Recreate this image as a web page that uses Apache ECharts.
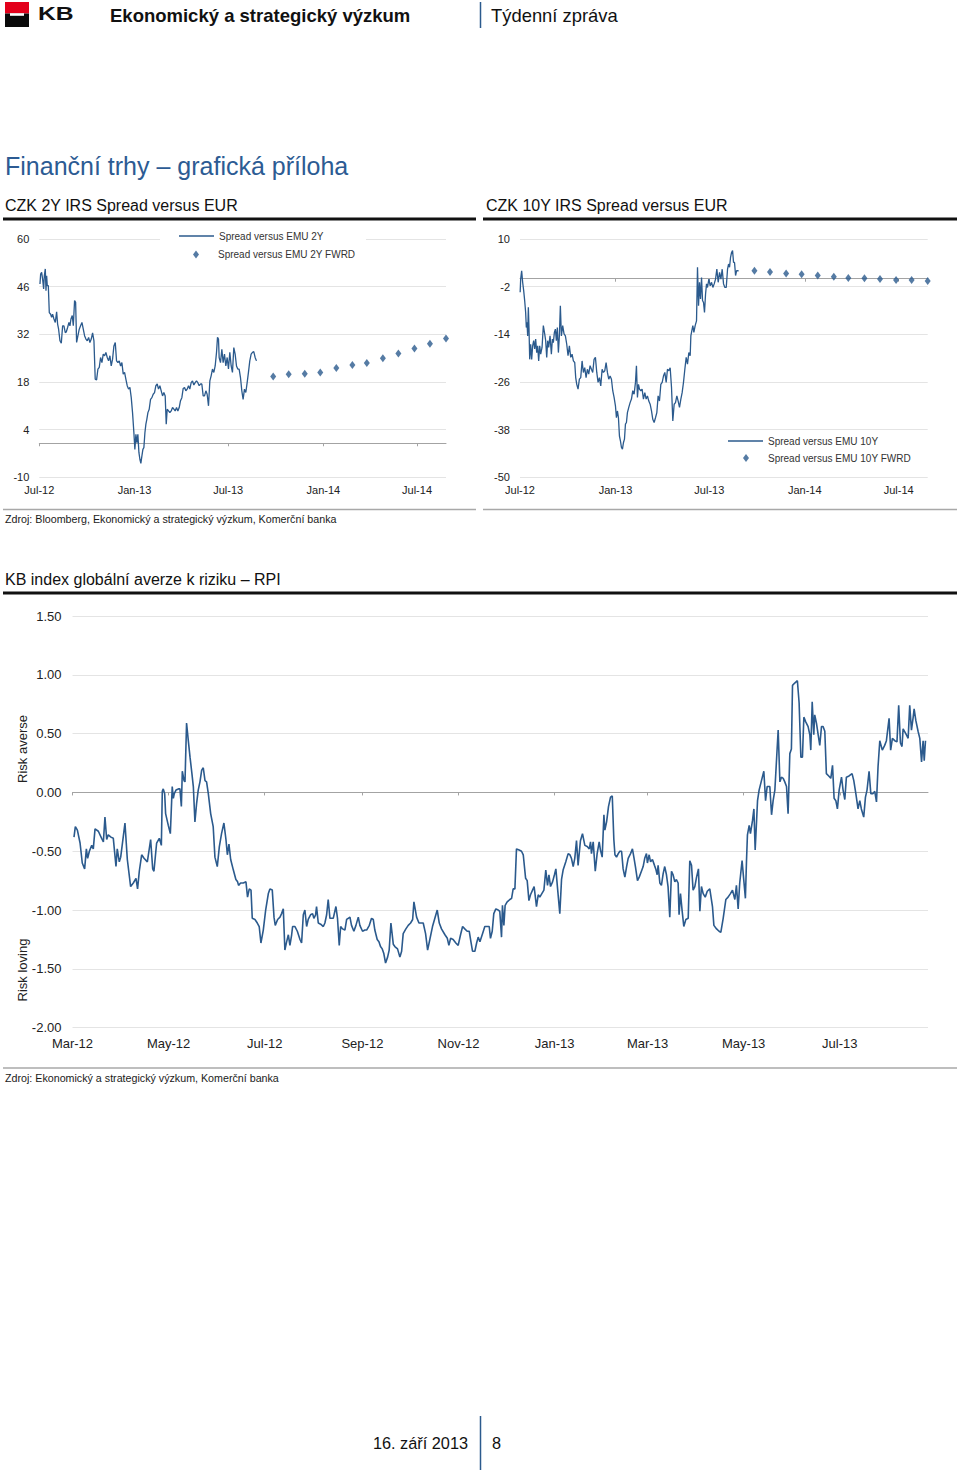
<!DOCTYPE html>
<html><head><meta charset="utf-8">
<script src="https://cdn.jsdelivr.net/npm/echarts@6/dist/echarts.min.js"></script>
<style>html,body{margin:0;padding:0;background:#fff}#c{width:960px;height:1470px}</style>
</head><body><div id="c"></div>
<script>
// ---------- data ----------
// CZK 2Y spread (days since 2012-07-01, bp)
const s2Base = '2012-07-01';
const s2Day = [
1.3,2.6,4.5,6.4,8.4,9.7,11.6,12.9,14.2,15.4,
17.4,19.3,21.9,23.8,25.7,28.3,30.9,33.5,35.4,37.3,
39.9,42.5,45.1,47.6,50.2,52.1,54.7,57.3,59.2,61.2,
63.7,65.7,68.2,70.2,72.1,74.7,77.2,79.8,82.4,85.0,
87.5,90.1,92.7,95.3,97.8,100.4,103.0,105.6,108.1,110.7,
113.3,115.9,118.4,121.0,123.6,126.2,128.7,131.3,133.9,136.5,
139.0,141.6,144.2,146.8,149.3,151.9,154.5,157.1,159.6,162.2,
164.8,167.4,169.9,172.5,175.1,177.7,180.2,182.8,184.7,186.7,
188.6,190.5,192.5,194.4,196.3,198.3,200.2,202.1,204.1,206.0,
207.9,209.9,212.4,215.0,217.6,220.1,222.7,225.3,227.9,230.4,
233.0,235.6,238.2,240.7,243.3,245.3,247.2,249.8,252.3,254.9,
257.5,260.1,262.6,265.2,267.8,270.4,272.9,275.5,278.1,280.7,
283.2,285.8,288.4,290.9,293.5,296.1,298.7,301.2,303.8,306.4,
309.0,311.5,314.1,316.7,319.3,321.9,324.4,327.0,329.6,332.1,
334.7,337.3,339.9,342.5,344.4,346.3,347.6,350.2,352.8,355.3,
357.9,360.5,363.1,365.6,368.2,370.8,373.3,375.9,378.5,381.1,
383.6,386.2,388.8,391.4,393.9,396.5,399.1,401.7,404.2,406.8,
409.4,412.0,414.5,417.1,419.7];
const s2Val = [
46.8,49.7,50.2,48.2,45.3,49.2,51.2,44.8,49.2,46.3,
46.3,38.4,37.9,37.0,37.9,36.5,35.5,38.6,35.0,33.5,
30.1,29.4,34.5,34.5,32.5,32.7,34.0,35.5,34.5,36.5,
37.5,34.5,41.9,41.4,29.6,31.6,33.5,34.5,35.5,33.5,
31.6,30.6,30.1,31.1,29.6,30.6,32.4,30.1,18.8,18.6,
21.8,22.3,25.2,23.7,26.2,25.7,26.7,25.2,24.2,25.7,
22.7,24.7,28.6,29.6,24.2,23.7,24.2,22.7,23.7,20.3,
20.8,18.8,16.9,15.9,16.4,13.4,9.0,3.1,-1.8,2.6,
0.2,2.6,-2.7,-4.7,-5.9,-3.7,-1.8,-1.3,3.1,5.6,
7.1,9.0,10.0,12.9,13.4,14.4,14.9,16.9,17.4,15.9,
16.9,15.4,13.9,14.9,13.9,5.6,10.0,9.5,9.0,9.5,
10.5,10.0,9.5,10.5,9.5,10.5,12.5,13.4,16.1,16.4,
15.4,15.9,16.9,15.9,17.8,18.3,17.1,17.8,18.3,17.8,
16.9,17.4,17.4,13.9,13.9,15.4,14.4,11.0,18.3,19.8,
21.8,20.8,22.7,26.7,31.1,30.6,25.2,23.7,27.6,23.7,
26.2,22.7,25.2,21.8,26.7,22.7,20.8,28.1,26.2,22.7,
21.8,21.8,19.3,15.4,12.9,15.9,14.9,17.8,20.8,24.2,
26.2,26.7,26.9,25.2,24.2];
const fwrdDates = ['2013-09-26','2013-10-26','2013-11-26','2013-12-26','2014-01-26','2014-02-26',
  '2014-03-26','2014-04-26','2014-05-26','2014-06-26','2014-07-26','2014-08-26'];
const s2Fwrd = [19.6,20.3,20.4,20.8,22.1,23.0,23.6,25.0,26.4,27.8,29.2,30.8];

// CZK 10Y spread (days since 2012-07-01, bp)
const s10Base = '2012-07-01';
const s10Day = [
0.3,1.3,3.2,5.1,7.1,9.0,10.9,12.2,13.5,14.8,
16.1,17.4,18.7,20.6,22.5,24.4,26.4,28.3,30.2,32.2,
34.1,36.0,38.0,39.9,42.5,45.0,47.6,49.5,51.5,53.4,
55.3,57.9,60.5,62.4,64.3,66.3,68.2,70.1,72.0,74.0,
75.9,77.8,79.8,82.3,84.9,87.5,90.1,92.6,95.2,97.8,
100.4,102.9,105.5,107.4,109.4,111.9,114.5,117.1,119.7,122.2,
124.8,127.4,129.9,132.5,135.1,137.7,140.2,142.8,145.4,148.0,
150.5,153.1,155.7,158.3,160.8,163.4,166.0,168.5,171.1,173.7,
176.3,178.8,181.4,184.0,185.9,187.8,189.8,191.7,193.6,195.6,
197.5,199.4,201.4,203.3,205.2,207.1,209.7,212.3,214.9,217.4,
220.0,222.6,224.5,226.4,228.4,230.3,232.9,235.4,238.0,240.6,
243.2,245.7,248.3,250.9,253.5,256.0,258.6,261.2,263.8,266.3,
268.9,271.5,274.1,276.6,279.2,281.8,284.3,286.9,289.5,292.1,
294.6,297.2,299.8,302.4,304.9,307.5,310.1,312.6,315.2,317.8,
320.4,322.9,325.5,328.1,329.4,331.3,333.2,335.2,337.7,340.3,
342.2,344.2,346.1,348.0,350.0,351.9,353.8,355.7,357.7,359.6,
361.5,364.1,366.7,369.3,371.8,374.4,377.0,379.5,382.1,384.7,
387.3,389.8,392.4,395.0,397.6,400.1,402.1,404.0,405.9,407.9,
409.8,411.7,413.6,415.6,417.5,419.4,421.4];
const s10Val = [
-3.4,-0.1,2.0,-0.9,-3.0,-5.5,-8.5,-12.3,-11.0,-14.4,
-7.2,-12.7,-20.3,-16.5,-20.3,-16.9,-15.6,-17.7,-15.2,-18.6,
-16.9,-20.7,-16.9,-19.0,-17.3,-11.8,-13.9,-15.6,-19.8,-15.6,
-17.3,-14.4,-19.0,-15.2,-16.1,-13.5,-12.7,-15.6,-12.3,-18.6,
-14.4,-6.8,-14.4,-11.8,-13.9,-14.4,-16.5,-19.4,-16.9,-19.8,
-19.0,-20.7,-21.1,-24.9,-26.6,-27.8,-25.3,-24.9,-20.7,-23.6,
-22.4,-24.9,-22.8,-24.0,-21.9,-22.8,-23.6,-20.3,-19.8,-23.6,
-26.1,-24.9,-27.0,-22.8,-23.6,-23.2,-21.1,-23.6,-25.3,-24.5,
-25.3,-28.2,-29.9,-32.0,-35.0,-33.3,-35.0,-39.6,-40.8,-42.5,
-42.9,-41.3,-40.4,-36.6,-36.2,-33.7,-32.4,-31.2,-30.3,-28.2,
-29.1,-26.1,-21.9,-29.9,-26.6,-27.8,-28.2,-27.8,-30.3,-28.7,
-30.3,-29.5,-30.8,-31.6,-33.3,-35.4,-36.2,-35.0,-33.7,-29.5,
-30.8,-26.6,-26.1,-24.5,-23.6,-26.1,-22.8,-23.2,-22.4,-27.4,
-35.8,-31.6,-31.2,-29.5,-30.8,-32.4,-30.3,-28.7,-26.1,-22.8,
-19.8,-21.5,-18.6,-19.4,-14.4,-13.1,-11.8,-13.5,-11.8,-10.6,
2.9,-6.8,-0.9,-5.1,0.3,-5.5,-6.0,-8.5,-3.9,-1.3,
-2.2,-0.1,-1.8,-0.9,-2.2,-1.3,-0.1,2.4,-0.9,1.6,
-0.1,2.4,-1.3,-2.2,-2.2,2.4,3.7,2.9,5.4,6.6,
7.1,4.1,4.1,0.8,2.0,2.0,2.0];
const s10Fwrd = [2.0,1.7,1.3,1.1,0.8,0.5,0.2,0.1,-0.1,-0.3,-0.3,-0.6];

// KB RPI (days since 2012-03-01)
const rpiBase = '2012-03-01';
const rpiDay = [
0.95,1.8,3.1,4.8,6.2,7.7,8.8,9.6,10.7,12.2,
13.2,14.3,16.4,18.5,19.6,20.6,21.7,22.7,24.4,25.9,
27.6,28.4,29.7,30.6,33.3,34.8,36.9,38.6,40.3,41.3,
42.4,43.9,45.4,47.5,49.6,50.9,51.7,53.4,55.1,56.4,
57.0,57.6,58.5,59.1,60.8,62.1,63.3,64.0,64.6,65.7,
67.2,68.2,69.1,69.7,70.8,71.4,72.4,73.5,74.6,75.8,
76.7,77.7,78.8,79.8,80.9,82.0,83.0,84.1,85.1,86.2,
87.7,89.3,90.4,91.9,93.2,94.6,96.1,97.4,98.3,99.3,
100.4,102.1,103.7,104.8,105.4,106.7,108.4,110.1,111.1,112.2,
113.3,114.1,115.8,117.3,118.5,119.6,121.1,122.6,124.3,125.3,
126.8,127.9,128.7,130.2,131.7,132.7,133.8,134.8,135.9,137.0,
138.0,139.1,139.7,141.2,142.7,144.4,145.4,146.5,147.5,148.6,
149.6,151.1,152.4,153.2,154.3,154.9,156.0,157.5,159.2,160.2,
161.3,162.3,163.4,165.5,167.2,168.2,169.3,170.2,171.4,172.9,
174.0,175.0,176.1,177.1,178.6,179.9,181.4,182.4,184.1,185.6,
186.7,188.4,189.8,190.9,191.9,193.4,194.5,195.5,196.6,197.6,
198.7,200.0,201.0,202.1,203.6,204.6,206.3,207.8,208.9,209.9,
211.6,213.1,214.6,215.9,216.7,218.4,219.9,220.9,222.6,224.1,
225.4,226.8,228.5,230.0,231.5,232.8,234.2,236.4,237.9,238.9,
240.0,241.6,243.3,244.8,246.3,247.6,249.0,250.5,251.8,252.9,
253.9,255.4,256.5,257.5,258.6,260.3,261.7,263.2,264.5,265.3,
266.4,267.4,268.7,270.2,271.2,272.3,272.9,273.8,274.6,275.9,
277.6,278.7,279.7,280.8,281.8,283.5,285.0,286.1,287.6,288.6,
289.7,290.7,292.0,293.0,294.5,295.6,296.6,297.9,299.2,300.4,
301.5,302.4,303.4,304.7,305.9,306.8,307.9,309.3,310.4,311.4,
313.1,314.6,315.7,316.7,317.8,318.8,319.9,320.9,322.4,323.7,
325.2,326.7,328.0,328.8,329.4,330.5,331.8,333.0,334.3,335.1,
336.2,337.3,337.9,339.0,340.2,341.5,342.6,343.6,344.3,345.3,
346.4,347.4,348.5,349.5,350.6,351.7,352.7,354.2,355.4,356.3,
357.3,358.6,359.7,361.1,362.2,363.2,364.3,364.9,366.0,366.9,
368.1,369.4,370.2,371.1,371.7,372.8,373.8,374.9,375.9,377.0,
378.0,379.1,380.2,381.2,382.3,383.3,384.4,385.0,385.9,386.9,
388.0,389.3,390.8,391.8,392.9,393.9,395.0,396.1,397.3,398.2,
399.2,400.3,401.6,402.9,404.5,406.2,407.1,408.8,410.4,411.5,
413.0,414.7,416.1,417.6,418.9,420.4,421.4,422.5,423.5,425.0,
426.1,427.1,427.8,428.4,429.5,430.3,431.6,432.5,433.3,434.2,
434.8,435.8,437.3,438.8,439.9,440.9,442.6,443.7,444.7,445.8,
447.9,449.0,450.0,451.1,452.1,453.2,454.2,455.3,456.3,457.0,
458.4,460.1,461.2,462.3,463.3,464.2,465.4,466.9,468.0,468.6,
469.5,470.5,471.1,472.2,473.3,474.3,475.4,476.4,477.5,478.5,
480.0,481.3,482.4,483.4,484.5,485.5,486.6,488.1,489.1,490.2,
491.2,492.9,494.8,495.9,497.2,498.6,499.7,500.7,502.2,503.3,
504.3,505.6,506.7,508.1,509.2,510.3,511.3,512.4,514.0,515.5,
516.6,518.3,519.3,520.4,521.9,523.3,524.4,525.5,526.5,527.2,
528.9,530.4,531.4,532.5,533.6,534.2,535.3,536.7,537.8,538.9,
539.9,540.6,541.4];
const rpiVal = [
-0.38,-0.29,-0.32,-0.43,-0.60,-0.65,-0.48,-0.56,-0.50,-0.45,
-0.48,-0.31,-0.33,-0.39,-0.42,-0.21,-0.40,-0.36,-0.38,-0.39,
-0.63,-0.48,-0.59,-0.55,-0.26,-0.57,-0.80,-0.77,-0.73,-0.82,
-0.67,-0.53,-0.56,-0.59,-0.40,-0.65,-0.67,-0.43,-0.39,-0.45,
0.01,0.03,-0.01,-0.18,-0.28,-0.35,0.05,-0.05,-0.01,0.02,
0.03,0.03,-0.12,0.18,0.10,0.09,0.59,0.44,0.30,0.16,
0.05,-0.25,-0.09,0.02,0.09,0.19,0.21,0.10,0.09,-0.01,
-0.18,-0.29,-0.55,-0.63,-0.46,-0.35,-0.26,-0.40,-0.53,-0.44,
-0.57,-0.66,-0.74,-0.76,-0.79,-0.77,-0.77,-0.76,-0.89,-0.82,
-0.83,-1.07,-1.08,-1.11,-1.14,-1.28,-1.17,-1.00,-0.86,-0.82,
-0.83,-1.06,-1.13,-1.08,-1.06,-1.03,-0.99,-1.34,-1.27,-1.21,
-1.30,-1.21,-1.14,-1.14,-1.18,-1.25,-1.28,-1.04,-1.00,-1.14,
-1.08,-1.04,-1.03,-1.07,-1.04,-0.97,-1.11,-1.12,-1.14,-1.11,
-1.04,-0.91,-1.07,-1.07,-0.97,-1.07,-1.30,-1.14,-1.16,-1.17,
-1.08,-1.07,-1.06,-1.13,-1.18,-1.13,-1.06,-1.13,-1.18,-1.17,
-1.17,-1.13,-1.07,-1.08,-1.17,-1.25,-1.27,-1.31,-1.33,-1.37,
-1.45,-1.40,-1.34,-1.11,-1.29,-1.31,-1.33,-1.40,-1.35,-1.20,
-1.16,-1.13,-1.11,-1.08,-0.93,-1.06,-1.11,-1.11,-1.11,-1.20,
-1.34,-1.25,-1.14,-1.07,-1.00,-1.11,-1.16,-1.21,-1.24,-1.30,
-1.24,-1.25,-1.28,-1.30,-1.21,-1.14,-1.16,-1.18,-1.18,-1.27,
-1.35,-1.35,-1.28,-1.23,-1.27,-1.20,-1.14,-1.14,-1.14,-1.24,
-1.18,-1.03,-0.99,-1.00,-1.01,-1.23,-0.96,-1.13,-0.96,-0.93,
-0.91,-0.90,-0.82,-0.82,-0.48,-0.49,-0.50,-0.53,-0.73,-0.75,
-0.92,-0.87,-0.83,-0.80,-0.97,-0.87,-0.89,-0.86,-0.83,-0.66,
-0.79,-0.70,-0.80,-0.76,-0.70,-0.65,-0.82,-1.03,-0.74,-0.66,
-0.59,-0.52,-0.53,-0.56,-0.63,-0.56,-0.41,-0.62,-0.41,-0.35,
-0.45,-0.46,-0.48,-0.42,-0.52,-0.42,-0.67,-0.52,-0.42,-0.49,
-0.55,-0.19,-0.32,-0.25,-0.12,-0.04,-0.03,-0.40,-0.53,-0.55,
-0.52,-0.50,-0.50,-0.65,-0.72,-0.63,-0.56,-0.52,-0.48,-0.55,
-0.63,-0.75,-0.72,-0.67,-0.63,-0.56,-0.52,-0.60,-0.53,-0.59,
-0.57,-0.62,-0.65,-0.70,-0.62,-0.77,-0.79,-0.69,-0.63,-0.70,
-0.80,-1.06,-0.67,-0.70,-0.76,-0.74,-0.77,-1.04,-0.86,-1.00,
-1.14,-1.08,-1.07,-0.58,-0.62,-0.83,-0.80,-0.72,-0.65,-1.01,
-0.80,-0.86,-0.89,-0.84,-0.82,-0.97,-1.13,-1.16,-1.18,-1.19,
-1.07,-0.91,-0.89,-0.86,-0.83,-0.91,-0.79,-0.99,-0.77,-0.58,
-0.75,-0.90,-0.58,-0.36,-0.28,-0.35,-0.24,-0.14,-0.49,-0.24,
-0.07,0.02,0.10,0.18,-0.07,0.05,0.05,-0.19,-0.07,0.02,
0.53,0.09,0.13,0.12,0.09,0.05,-0.18,0.33,0.37,0.91,
0.93,0.95,0.76,0.30,0.30,0.64,0.60,0.56,0.49,0.36,
0.77,0.49,0.66,0.59,0.49,0.40,0.56,0.56,0.52,0.16,
0.14,0.12,0.23,-0.05,-0.07,-0.14,0.02,0.13,0.02,-0.06,
0.13,0.14,0.16,0.10,-0.01,-0.14,-0.07,-0.14,-0.21,-0.04,
0.02,0.18,-0.01,-0.01,0.01,-0.08,0.22,0.44,0.36,0.40,
0.44,0.63,0.36,0.46,0.44,0.43,0.74,0.42,0.39,0.54,
0.50,0.46,0.74,0.53,0.64,0.71,0.61,0.52,0.46,0.26,
0.44,0.27,0.44];

// tick labels
const topTickDates = ['2012-07-01','2013-01-01','2013-07-01','2014-01-01','2014-07-01'];
const topTickLabels = ['Jul-12','Jan-13','Jul-13','Jan-14','Jul-14'];
const y2Ticks = [-10,4,18,32,46,60];
const y10Ticks = [-50,-38,-26,-14,-2,10];
const rpiTickDates = ['2012-03-01','2012-05-01','2012-07-01','2012-09-01','2012-11-01',
  '2013-01-01','2013-03-01','2013-05-01','2013-07-01'];
const rpiTickLabels = ['Mar-12','May-12','Jul-12','Sep-12','Nov-12','Jan-13','Mar-13','May-13','Jul-13'];

// ---------- build ----------
const FONT = '"Liberation Sans", Arial, Helvetica, sans-serif';
const BLUE = '#2b5a8d';
const GRID = '#e4e4e4';
const AXIS = '#a3a3a3';
const DAY = 86400000;
function dnum(s){ const p = s.split('-'); return Date.UTC(+p[0], +p[1]-1, +p[2]) / DAY; }
// x is expressed as days elapsed since the chart's base date
function dayOf(base, s){ return dnum(s) - dnum(base); }
function pts(days, vals){ return days.map((d,i)=>[d, vals[i]]); }
function datePts(base, dates, vals){ return dates.map((d,i)=>[dayOf(base,d), vals[i]]); }

function labelAxis(gi, base, maxS, dates, labels, fs, margin){
  const tk = dates.map(d=>dayOf(base,d));
  return {type:'value', gridIndex:gi, min:0, max:dayOf(base,maxS), position:'bottom',
    axisLine:{show:false,onZero:false}, axisTick:{show:false,customValues:tk}, splitLine:{show:false},
    axisLabel:{customValues:tk, color:'#222', fontSize:fs, fontFamily:FONT, margin:margin, hideOverlap:false,
      formatter:function(v){ const i = tk.findIndex(t=>Math.abs(t-v)<0.5); return i>=0 ? labels[i] : ''; }}};
}
function zeroAxis(gi, base, maxS, dates){
  const tk = dates.map(d=>dayOf(base,d));
  return {type:'value', gridIndex:gi, min:0, max:dayOf(base,maxS), position:'bottom',
    axisLine:{show:true,onZero:true,lineStyle:{color:AXIS,width:1}},
    axisTick:{show:true,customValues:tk,length:3,lineStyle:{color:AXIS}},
    axisLabel:{show:false}, splitLine:{show:false}};
}
function yAx(gi, min, max, ticks, fs, margin, fmt){
  const a = {type:'value', gridIndex:gi, min:min, max:max,
    axisLine:{show:false,onZero:false}, axisTick:{show:false},
    axisLabel:{color:'#222', fontSize:fs, fontFamily:FONT, margin:margin},
    splitLine:{show:true,lineStyle:{color:GRID,width:1}}};
  if (ticks) { a.axisTick.customValues = ticks; a.axisLabel.customValues = ticks; }
  if (fmt) a.axisLabel.formatter = fmt;
  return a;
}
function txt(x, y, text, fs, o){
  o = o || {};
  return {type:'text', x:x, y:y, z:20, rotation:o.rot||0, scaleX:o.sx||1, silent:true,
    style:{text:text, fill:o.color||'#111', fontSize:fs, fontFamily:FONT, fontWeight:o.bold?'bold':'normal',
      align:o.align||'left', verticalAlign:'middle', textAlign:o.align||'left', textVerticalAlign:'middle'}};
}
function ln(x1,y1,x2,y2,color,w){ return {type:'line', z:20, silent:true, shape:{x1,y1,x2,y2}, style:{stroke:color,lineWidth:w}}; }
function rc(x,y,w,h,color,z){ return {type:'rect', z:z||20, silent:true, shape:{x,y,width:w,height:h}, style:{fill:color}}; }

const chart = echarts.init(document.getElementById('c'), null, {renderer:'svg', width:960, height:1470});
const legendBase = {orient:'horizontal', padding:0, selectedMode:false, z:30,
  textStyle:{fontSize:10, color:'#333', fontFamily:FONT}};
const option = {
  animation:false,
  backgroundColor:'#fff',
  textStyle:{fontFamily:FONT},
  grid:[
    {left:39.3, top:239, width:406.7, height:238.3, outerBoundsMode:'none'},
    {left:520, top:239, width:407.7, height:238.3, outerBoundsMode:'none'},
    {left:72.5, top:616, width:855.5, height:411.7, outerBoundsMode:'none'}
  ],
  xAxis:[
    labelAxis(0,s2Base,'2014-08-26',topTickDates,topTickLabels,11,7),
    zeroAxis(0,s2Base,'2014-08-26',topTickDates),
    labelAxis(1,s10Base,'2014-08-26',topTickDates,topTickLabels,11,7),
    zeroAxis(1,s10Base,'2014-08-26',topTickDates),
    labelAxis(2,rpiBase,'2013-08-26',rpiTickDates,rpiTickLabels,13,9),
    zeroAxis(2,rpiBase,'2013-08-26',rpiTickDates)
  ],
  yAxis:[
    yAx(0,-10,60,y2Ticks,11,10),
    yAx(1,-50,10,y10Ticks,11,10),
    Object.assign(yAx(2,-2,1.5,null,13,11,v=>v.toFixed(2)),{interval:0.5})
  ],
  legend:[
    Object.assign({}, legendBase, {left:179, top:231, itemWidth:35, itemHeight:1.6,
      data:[{name:'Spread versus EMU 2Y', icon:'rect'}]}),
    Object.assign({}, legendBase, {left:193, top:249.5, itemWidth:6, itemHeight:8,
      data:[{name:'Spread versus EMU 2Y FWRD', icon:'diamond'}],
      textStyle:Object.assign({}, legendBase.textStyle, {padding:[0,0,0,14]})}),
    Object.assign({}, legendBase, {left:728, top:436, itemWidth:35, itemHeight:1.6,
      data:[{name:'Spread versus EMU 10Y', icon:'rect'}]}),
    Object.assign({}, legendBase, {left:743, top:453, itemWidth:6, itemHeight:8,
      data:[{name:'Spread versus EMU 10Y FWRD', icon:'diamond'}],
      textStyle:Object.assign({}, legendBase.textStyle, {padding:[0,0,0,14]})})
  ],
  series:[
    {name:'Spread versus EMU 2Y', type:'line', xAxisIndex:0, yAxisIndex:0, data:pts(s2Day,s2Val),
      showSymbol:false, symbol:'none', lineStyle:{color:BLUE,width:1.3}, itemStyle:{color:BLUE}, z:3},
    {name:'Spread versus EMU 2Y FWRD', type:'scatter', xAxisIndex:0, yAxisIndex:0, data:datePts(s2Base,fwrdDates,s2Fwrd),
      symbol:'diamond', symbolSize:[6,8], itemStyle:{color:BLUE}, z:3},
    {name:'Spread versus EMU 10Y', type:'line', xAxisIndex:2, yAxisIndex:1, data:pts(s10Day,s10Val),
      showSymbol:false, symbol:'none', lineStyle:{color:BLUE,width:1.3}, itemStyle:{color:BLUE}, z:3},
    {name:'Spread versus EMU 10Y FWRD', type:'scatter', xAxisIndex:2, yAxisIndex:1, data:datePts(s10Base,fwrdDates,s10Fwrd),
      symbol:'diamond', symbolSize:[6,8], itemStyle:{color:BLUE}, z:3},
    {name:'KB RPI', type:'line', xAxisIndex:4, yAxisIndex:2, data:pts(rpiDay,rpiVal),
      showSymbol:false, symbol:'none', lineStyle:{color:BLUE,width:1.6}, itemStyle:{color:BLUE}, z:3}
  ],
  graphic:{elements:[
    rc(5,2,24,11.5,'#e3001b'), rc(5,13.5,24,13.5,'#0a0a0a'), rc(10,13.2,14,2.6,'#ffffff',21),
    txt(38,14,'KB',19,{bold:true,color:'#111',sx:1.3}),
    txt(110,15,'Ekonomický a strategický výzkum',18.5,{bold:true,color:'#111'}),
    ln(480.5,2,480.5,28,'#2b5a8d',1.5),
    txt(491,15,'Týdenní zpráva',18.4,{color:'#111'}),
    txt(5,166,'Finanční trhy – grafická příloha',25,{color:'#2c5b93'}),
    txt(5,205,'CZK 2Y IRS Spread versus EUR',16,{color:'#111'}),
    ln(3,219,476,219,'#111',3),
    txt(486,205,'CZK 10Y IRS Spread versus EUR',16,{color:'#111'}),
    ln(483,219,957,219,'#111',3),
    rc(160,229,206,37,'#ffffff',1),
    ln(3,509.5,476,509.5,'#a8a8a8',1.5),
    ln(483,509.5,957,509.5,'#a8a8a8',1.5),
    txt(5,519,'Zdroj: Bloomberg, Ekonomický a strategický výzkum, Komerční banka',10.7,{color:'#1a1a1a'}),
    txt(5,579,'KB index globální averze k riziku – RPI',16,{color:'#111'}),
    ln(3,593,957,593,'#111',3),
    txt(22,749,'Risk averse',13,{color:'#222',align:'center',rot:Math.PI/2}),
    txt(22,970,'Risk loving',13,{color:'#222',align:'center',rot:Math.PI/2}),
    ln(3,1068,957,1068,'#a8a8a8',1.5),
    txt(5,1078,'Zdroj: Ekonomický a strategický výzkum, Komerční banka',10.7,{color:'#1a1a1a'}),
    txt(468,1443,'16. září 2013',16.3,{color:'#111',align:'right'}),
    ln(480.5,1416,480.5,1470,'#2b5a8d',1.5),
    txt(492,1443,'8',16.3,{color:'#111'})
  ]}
};
chart.setOption(option);
</script></body></html>
